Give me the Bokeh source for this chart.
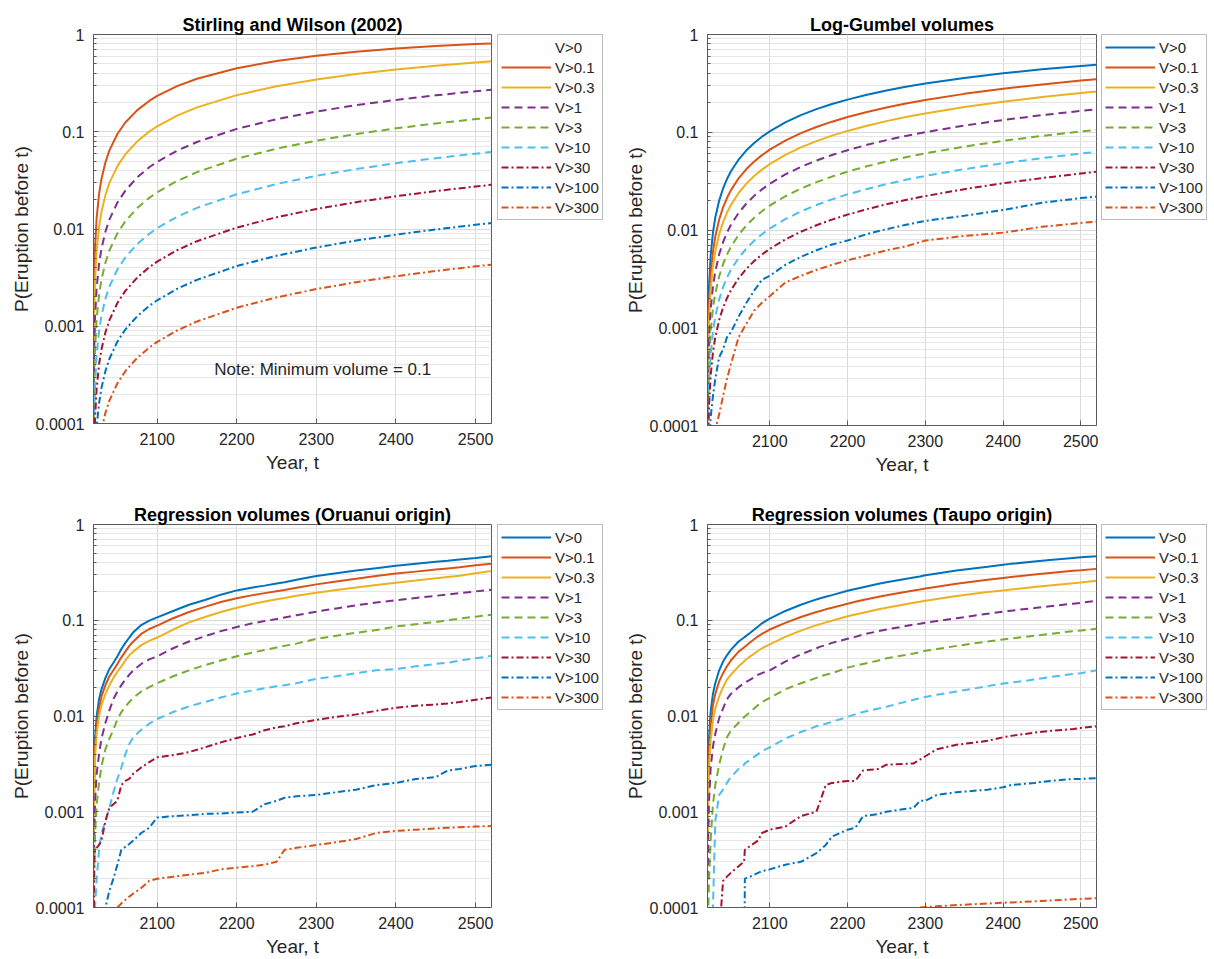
from bokeh.plotting import figure
from bokeh.layouts import column, row
from bokeh.models import (Range1d, FixedTicker, CustomJSTickFormatter, Legend,
                          LegendItem, Label)
from bokeh.embed import file_html
from bokeh.resources import INLINE

nan = float("nan")

labels = ["V>0", "V>0.1", "V>0.3", "V>1", "V>3", "V>10", "V>30", "V>100", "V>300"]
colors = ["#0072BD", "#D95319", "#EDB120", "#7E2F8E", "#77AC30", "#4DBEEE",
          "#A2142F", "#0072BD", "#D95319"]
dashes = ["solid", "solid", "solid", "8 5", "8 5", "8 5", "7 3 2 3", "7 3 2 3", "7 3 2 3"]

y_ticks = [0.0001, 0.001, 0.01, 0.1, 1]
y_minor = [2e-4, 3e-4, 4e-4, 5e-4, 6e-4, 7e-4, 8e-4, 9e-4,
           2e-3, 3e-3, 4e-3, 5e-3, 6e-3, 7e-3, 8e-3, 9e-3,
           0.02, 0.03, 0.04, 0.05, 0.06, 0.07, 0.08, 0.09,
           0.2, 0.3, 0.4, 0.5, 0.6, 0.7, 0.8, 0.9]
x_ticks = [2100, 2200, 2300, 2400, 2500]

# ---------------- Panel 1: Stirling and Wilson (2002) ----------------
p1_years = [2020.2, 2020.5, 2021, 2022, 2024, 2027, 2030, 2035, 2040, 2050, 2060, 2075,
            2090, 2100, 2125, 2150, 2200, 2250, 2300, 2350, 2400, 2450, 2500, 2520]
p1_v0 = []
p1_v01 = [0.00066, 0.00166, 0.00332, 0.00662, 0.0132, 0.0230, 0.0327, 0.0486, 0.0643, 0.0948,
          0.1244, 0.1670, 0.2075, 0.2334, 0.2944, 0.3507, 0.4500, 0.5341, 0.6054, 0.6657,
          0.7169, 0.7602, 0.7969, 0.810]
p1_v03 = [0.0003, 0.00075, 0.00151, 0.00302, 0.00602, 0.01051, 0.01499, 0.02239, 0.0298, 0.0443,
          0.0586, 0.0797, 0.1003, 0.1138, 0.1466, 0.1782, 0.2380, 0.2934, 0.3448, 0.3924,
          0.4366, 0.4776, 0.5156, 0.530]
p1_v1 = [0.000126, 0.000315, 0.000629, 0.001258, 0.002513, 0.004394, 0.00627, 0.00939, 0.0125,
         0.01869, 0.0248, 0.0340, 0.0431, 0.0491, 0.0639, 0.0785, 0.1070, 0.1346, 0.1615,
         0.1875, 0.2126, 0.2370, 0.2606, 0.270]
p1_v3 = [0.00006, 0.000151, 0.000302, 0.000603, 0.001206, 0.002109, 0.003012, 0.004514,
         0.006014, 0.00901, 0.01199, 0.01645, 0.02089, 0.02385, 0.03118, 0.03845, 0.05281,
         0.0670, 0.0810, 0.0948, 0.1084, 0.1217, 0.1349, 0.140]
p1_v10 = [0.000026, 0.000064, 0.000128, 0.000256, 0.000512, 0.000896, 0.00128, 0.00192,
          0.00256, 0.00383, 0.00511, 0.00702, 0.00892, 0.01019, 0.01335, 0.0165, 0.02278,
          0.02901, 0.03521, 0.04135, 0.04746, 0.05352, 0.05954, 0.0620]
p1_v30 = [0.0000116, 0.000029, 0.000058, 0.000116, 0.000231, 0.000405, 0.000578, 0.000867,
          0.001155, 0.001733, 0.002309, 0.003174, 0.004038, 0.004613, 0.006051, 0.007486,
          0.01035, 0.01321, 0.01605, 0.01889, 0.02172, 0.02454, 0.02736, 0.0285]
p1_v100 = [0.0000046, 0.0000116, 0.000023, 0.000046, 0.000093, 0.000162, 0.000231, 0.000347,
           0.000463, 0.000694, 0.000925, 0.001271, 0.001618, 0.001849, 0.002426, 0.003002,
           0.004155, 0.005306, 0.006455, 0.007604, 0.008751, 0.009897, 0.01104, 0.0115]
p1_v300 = [0.0000017, 0.0000043, 0.0000086, 0.000017, 0.000034, 0.00006, 0.000086, 0.000129,
           0.000172, 0.000259, 0.000345, 0.000474, 0.000603, 0.00069, 0.000905, 0.00112,
           0.00155, 0.001981, 0.002411, 0.002841, 0.00327, 0.003699, 0.004129, 0.0043]

# ---------------- Panel 2: Log-Gumbel volumes ----------------
p2_years = [2020.5, 2021, 2022, 2024, 2027, 2030, 2035, 2040, 2045, 2050, 2060, 2070, 2080,
            2090, 2100, 2120, 2140, 2160, 2180, 2200, 2225, 2250, 2275, 2300, 2350, 2400,
            2450, 2500, 2520]
p2_v0 = [0.00068, 0.00135, 0.0027, 0.0054, 0.0094, 0.0134, 0.0200, 0.0266, 0.0332, 0.0397,
         0.0526, 0.0653, 0.0778, 0.0901, 0.1022, 0.1263, 0.1497, 0.1723, 0.1943, 0.2157,
         0.2418, 0.2668, 0.2914, 0.3147, 0.3597, 0.4012, 0.4402, 0.4767, 0.4908]
p2_v01 = [0.00043, 0.00086, 0.00172, 0.00343, 0.006, 0.00855, 0.0128, 0.01704, 0.02124,
          0.02543, 0.03378, 0.04204, 0.05022, 0.05833, 0.06636, 0.0822, 0.0979, 0.1133,
          0.1283, 0.1432, 0.1614, 0.1791, 0.1968, 0.2139, 0.247, 0.2785, 0.3088, 0.3379, 0.3491]
p2_v03 = [0.0003, 0.000605, 0.00121, 0.00242, 0.00423, 0.00603, 0.00904, 0.01203, 0.01501,
          0.01798, 0.02391, 0.0298, 0.03565, 0.04147, 0.04725, 0.05871, 0.07003, 0.08122,
          0.09228, 0.1032, 0.1166, 0.1299, 0.143, 0.1558, 0.181, 0.2054, 0.2291, 0.2521, 0.261]
p2_v1 = [0.00019, 0.00038, 0.00075, 0.00151, 0.00264, 0.00376, 0.00564, 0.00751, 0.00938,
         0.01125, 0.01497, 0.01867, 0.02236, 0.02604, 0.02971, 0.037, 0.04423, 0.0514, 0.0585,
         0.06555, 0.07437, 0.08307, 0.0917, 0.1002, 0.117, 0.1334, 0.1495, 0.1654, 0.1715]
p2_v3 = [0.00011, 0.000224, 0.00045, 0.0009, 0.00157, 0.00224, 0.00336, 0.00447, 0.00558,
         0.0067, 0.00892, 0.01114, 0.01335, 0.01556, 0.01776, 0.02215, 0.02652, 0.03087,
         0.0352, 0.03952, 0.04489, 0.05022, 0.05553, 0.06081, 0.07127, 0.0816, 0.0918,
         0.1019, 0.1059]
p2_v10 = [0.000065, 0.00013, 0.00026, 0.00052, 0.00091, 0.0013, 0.00195, 0.0026, 0.00325,
          0.0039, 0.00519, 0.00648, 0.00777, 0.00906, 0.01035, 0.01292, 0.01548, 0.01803,
          0.02059, 0.02313, 0.0263, 0.02945, 0.03261, 0.03575, 0.04199, 0.0482, 0.05436,
          0.06049, 0.063]
p2_v30 = [0.00004, 0.00008, 0.00016, 0.00032, 0.00056, 0.0008, 0.0012, 0.00161, 0.00201,
          0.00241, 0.00321, 0.00401, 0.00481, 0.00561, 0.00641, 0.00801, 0.0096, 0.01119,
          0.01278, 0.01437, 0.01635, 0.01832, 0.02029, 0.02226, 0.02618, 0.03008, 0.03398,
          0.03786, 0.0394]
p2_v100 = [0.000015, 0.00003, 0.00006, 0.00012, 0.0002, 0.0003, 0.0005, 0.0006, 0.0008, 0.0009,
           0.0013, 0.0018, 0.0024, 0.0031, 0.0034, 0.0044, 0.0053, 0.0062, 0.0071, 0.0078,
           0.0091, 0.0102, 0.0113, 0.0124, 0.0140, 0.0160, 0.0190, 0.0212, 0.0220]
p2_v300 = [0.00001, 0.00002, 0.00003, 0.00005, 0.00007, 0.00009, 0.00013, 0.0002, 0.0003,
           0.00042, 0.0008, 0.0011, 0.0015, 0.0018, 0.0021, 0.0029, 0.0034, 0.0039, 0.0044,
           0.0049, 0.0055, 0.0062, 0.0068, 0.0078, 0.0087, 0.0094, 0.0108, 0.0118, 0.0122]

# ---------------- Panel 3: Regression volumes (Oruanui origin) ----------------
p3_years = [2020.5, 2021, 2022, 2024, 2027, 2030, 2035, 2040, 2045, 2050, 2055, 2060, 2065,
            2070, 2080, 2090, 2100, 2120, 2140, 2160, 2180, 2200, 2220, 2235, 2250, 2260,
            2275, 2300, 2325, 2350, 2375, 2400, 2425, 2450, 2465, 2480, 2500, 2520]
p3_v0 = [0.001, 0.003, 0.006, 0.01, 0.015, 0.019, 0.025, 0.031, 0.036, 0.042, 0.05, 0.058,
         0.066, 0.075, 0.089, 0.099, 0.107, 0.125, 0.145, 0.163, 0.185, 0.205, 0.22, 0.23,
         0.242, 0.25, 0.265, 0.29, 0.31, 0.33, 0.35, 0.37, 0.39, 0.408, 0.418, 0.43, 0.447, 0.466]
p3_v01 = [0.0008, 0.0025, 0.005, 0.008, 0.012, 0.016, 0.021, 0.026, 0.03, 0.035, 0.041, 0.047,
          0.054, 0.06, 0.072, 0.081, 0.088, 0.105, 0.122, 0.138, 0.155, 0.17, 0.183, 0.192,
          0.201, 0.207, 0.218, 0.237, 0.254, 0.272, 0.29, 0.307, 0.322, 0.338, 0.348, 0.358,
          0.375, 0.39]
p3_v03 = [0.0006, 0.0018, 0.0038, 0.0065, 0.01, 0.013, 0.017, 0.021, 0.025, 0.029, 0.033,
          0.038, 0.043, 0.047, 0.055, 0.061, 0.066, 0.08, 0.095, 0.108, 0.122, 0.135, 0.148,
          0.157, 0.166, 0.171, 0.18, 0.194, 0.207, 0.22, 0.234, 0.247, 0.26, 0.274, 0.283,
          0.292, 0.31, 0.327]
p3_v1 = [0.0002, 0.0006, 0.0013, 0.0025, 0.004, 0.0058, 0.0085, 0.0115, 0.015, 0.018, 0.021,
         0.024, 0.027, 0.03, 0.035, 0.039, 0.042, 0.051, 0.06, 0.068, 0.077, 0.085, 0.093,
         0.098, 0.103, 0.107, 0.113, 0.123, 0.133, 0.143, 0.153, 0.162, 0.171, 0.18, 0.186,
         0.192, 0.2, 0.208]
p3_v3 = [0.0001, 0.0003, 0.0006, 0.0012, 0.002, 0.003, 0.0045, 0.0058, 0.0072, 0.0092, 0.011,
         0.0125, 0.014, 0.0155, 0.018, 0.02, 0.022, 0.026, 0.03, 0.034, 0.038, 0.042, 0.046,
         0.049, 0.052, 0.054, 0.057, 0.064, 0.069, 0.074, 0.079, 0.086, 0.091, 0.096, 0.1,
         0.104, 0.109, 0.114]
p3_v10 = [0.00002, 0.00005, 0.0001, 0.0002, 0.0004, 0.0006, 0.0008, 0.0011, 0.0016, 0.0022,
          0.0029, 0.004, 0.0051, 0.006, 0.0072, 0.0083, 0.0093, 0.011, 0.0126, 0.014, 0.0156,
          0.0172, 0.0185, 0.0195, 0.0205, 0.021, 0.022, 0.0245, 0.026, 0.028, 0.03, 0.031,
          0.033, 0.035, 0.036, 0.038, 0.04, 0.0425]
p3_v30 = [0.0001, 0.0003, 0.0004, 0.00042, 0.00045, 0.0005, 0.0008, 0.0011, 0.0012, 0.0013,
          0.0019, 0.0021, 0.0022, 0.0025, 0.0029, 0.0033, 0.0037, 0.0039, 0.0042, 0.0047,
          0.0053, 0.0059, 0.0064, 0.0071, 0.0076, 0.0078, 0.0084, 0.0091, 0.0098, 0.0104,
          0.0113, 0.0122, 0.0128, 0.0132, 0.0135, 0.014, 0.0148, 0.0156]
p3_v100 = [0.00001, 0.00002, 0.00003, 0.00004, 0.00005, 0.00007, 0.0001, 0.00015, 0.0002,
           0.00028, 0.0004, 0.00043, 0.00046, 0.0005, 0.0006, 0.00068, 0.00087, 0.0009,
           0.00092, 0.00095, 0.00096, 0.00098, 0.001, 0.0012, 0.0013, 0.0014, 0.00145, 0.0015,
           0.0016, 0.0017, 0.0019, 0.002, 0.0022, 0.0023, 0.0027, 0.0028, 0.003, 0.0031]
p3_v300 = [nan, nan, nan, nan, nan, nan, nan, nan, nan, 0.0001, 0.00011, 0.00012, 0.00013,
           0.00014, 0.00016, 0.00019, 0.0002, 0.00021, 0.00022, 0.00023, 0.00025, 0.00026,
           0.00027, 0.00028, 0.0003, 0.0004, 0.00042, 0.00045, 0.00048, 0.00052, 0.0006,
           0.00063, 0.00065, 0.00067, 0.00068, 0.00069, 0.0007, 0.00071]

# ---------------- Panel 4: Regression volumes (Taupo origin) ----------------
p4_years = [2020.5, 2021, 2022, 2024, 2027, 2030, 2035, 2040, 2045, 2050, 2060, 2067, 2068,
            2075, 2085, 2090, 2100, 2120, 2140, 2160, 2165, 2172, 2180, 2200, 2210, 2220,
            2240, 2250, 2285, 2293, 2300, 2315, 2340, 2380, 2400, 2410, 2440, 2460, 2490,
            2500, 2520]
p4_v0 = [0.001, 0.003, 0.006, 0.011, 0.017, 0.022, 0.03, 0.037, 0.043, 0.049, 0.06, 0.066,
         0.067, 0.074, 0.086, 0.093, 0.104, 0.125, 0.145, 0.165, 0.17, 0.176, 0.183, 0.203,
         0.212, 0.221, 0.24, 0.249, 0.28, 0.287, 0.295, 0.308, 0.33, 0.362, 0.38, 0.388,
         0.41, 0.425, 0.447, 0.454, 0.467]
p4_v01 = [0.0008, 0.0023, 0.0045, 0.008, 0.013, 0.017, 0.023, 0.028, 0.033, 0.038, 0.047,
          0.052, 0.053, 0.059, 0.068, 0.072, 0.08, 0.094, 0.108, 0.122, 0.125, 0.13, 0.135,
          0.149, 0.156, 0.163, 0.176, 0.182, 0.205, 0.21, 0.215, 0.224, 0.24, 0.265, 0.277,
          0.283, 0.3, 0.311, 0.328, 0.333, 0.344]
p4_v03 = [0.0005, 0.0015, 0.003, 0.0055, 0.009, 0.012, 0.016, 0.02, 0.024, 0.027, 0.033,
          0.037, 0.038, 0.042, 0.048, 0.051, 0.056, 0.067, 0.078, 0.089, 0.091, 0.095, 0.099,
          0.11, 0.115, 0.12, 0.13, 0.135, 0.152, 0.156, 0.16, 0.167, 0.179, 0.197, 0.205,
          0.209, 0.222, 0.231, 0.244, 0.248, 0.258]
p4_v1 = [0.0002, 0.0006, 0.0013, 0.0028, 0.0048, 0.0065, 0.0095, 0.012, 0.015, 0.017, 0.02,
         0.022, 0.0222, 0.024, 0.027, 0.028, 0.03, 0.037, 0.044, 0.051, 0.053, 0.055, 0.058,
         0.064, 0.067, 0.071, 0.077, 0.08, 0.09, 0.092, 0.094, 0.098, 0.105, 0.117, 0.123,
         0.126, 0.134, 0.14, 0.149, 0.152, 0.16]
p4_v3 = [0.00003, 0.0001, 0.0002, 0.0005, 0.0012, 0.0019, 0.0031, 0.0045, 0.006, 0.007,
         0.0085, 0.0097, 0.0099, 0.011, 0.013, 0.014, 0.0155, 0.019, 0.022, 0.025, 0.026,
         0.027, 0.028, 0.032, 0.0335, 0.035, 0.038, 0.04, 0.045, 0.0465, 0.048, 0.05, 0.054,
         0.06, 0.063, 0.0645, 0.069, 0.072, 0.077, 0.078, 0.0815]
p4_v10 = [0.00001, 0.00002, 0.00003, 0.00005, 0.0001, 0.0008, 0.0015, 0.0017, 0.002, 0.0023,
          0.0028, 0.0031, 0.0032, 0.0035, 0.004, 0.0043, 0.0047, 0.0058, 0.0068, 0.0078,
          0.008, 0.0083, 0.0087, 0.0098, 0.0104, 0.011, 0.012, 0.0125, 0.0148, 0.0153,
          0.0158, 0.0167, 0.018, 0.0205, 0.0218, 0.0223, 0.024, 0.0255, 0.0275, 0.028, 0.03]
p4_v30 = [nan, nan, nan, nan, nan, nan, 0.00005, 0.00019, 0.00021, 0.00023, 0.00027, 0.0003,
          0.0004, 0.00044, 0.0005, 0.0006, 0.00065, 0.0007, 0.0009, 0.001, 0.0013, 0.0019,
          0.002, 0.0021, 0.0021, 0.0027, 0.0028, 0.0031, 0.0032, 0.0035, 0.0038, 0.0045,
          0.005, 0.0055, 0.006, 0.0062, 0.0067, 0.007, 0.0073, 0.0075, 0.0078]
p4_v100 = [nan, nan, nan, nan, nan, nan, nan, nan, nan, nan, nan, 0.00001, 0.0002, 0.00021,
           0.00023, 0.00024, 0.00025, 0.00028, 0.0003, 0.00037, 0.0004, 0.00045, 0.00055,
           0.00065, 0.00068, 0.0009, 0.00095, 0.001, 0.0011, 0.0013, 0.0013, 0.0015, 0.0016,
           0.0017, 0.0018, 0.0019, 0.002, 0.0021, 0.0022, 0.0022, 0.00224]
p4_v300 = [nan, nan, nan, nan, nan, nan, nan, nan, nan, nan, nan, nan, nan, nan, nan, nan,
           nan, nan, nan, nan, nan, nan, nan, nan, nan, nan, nan, nan, nan, 0.0001, 0.000101,
           0.000103, 0.000106, 0.00011, 0.000112, 0.000113, 0.000116, 0.000118, 0.000122,
           0.000123, 0.000125]

FONT = "Liberation Sans"
TXT = "#262626"
AXC = "#5a5a5a"


def make_panel(title, years, series, fw, fh, bl, bt, bb, hide_first=False):
    p = figure(frame_width=fw, frame_height=fh, y_axis_type="log",
               x_range=Range1d(2020, 2520), y_range=Range1d(1e-4, 1),
               output_backend="svg", toolbar_location=None,
               min_border_left=bl, min_border_right=2, min_border_top=bt,
               min_border_bottom=bb, background_fill_color="white",
               border_fill_color="white")
    p.title.text = title
    p.title.align = "center"
    p.title.text_font = FONT
    p.title.text_font_size = "18px"
    p.title.text_font_style = "bold"
    p.title.text_color = "black"
    p.title.standoff = 0

    yt = FixedTicker(ticks=y_ticks, minor_ticks=y_minor)
    xt = FixedTicker(ticks=x_ticks)
    p.yaxis.ticker = yt
    p.ygrid.ticker = yt
    p.xaxis.ticker = xt
    p.xgrid.ticker = xt
    p.yaxis.formatter = CustomJSTickFormatter(code="return tick.toString();")

    p.xaxis.axis_label = "Year, t"
    p.yaxis.axis_label = "P(Eruption before t)"
    for ax in (p.xaxis[0], p.yaxis[0]):
        ax.axis_line_color = AXC
        ax.major_tick_line_color = AXC
        ax.minor_tick_line_color = AXC
        ax.major_tick_in = 5
        ax.major_tick_out = 0
        ax.minor_tick_in = 3
        ax.minor_tick_out = 0
        ax.major_label_text_font = FONT
        ax.major_label_text_font_size = "16px"
        ax.major_label_text_color = TXT
        ax.axis_label_text_font = FONT
        ax.axis_label_text_font_size = "19px"
        ax.axis_label_text_font_style = "normal"
        ax.axis_label_text_color = TXT
    p.xaxis.major_label_standoff = 9
    p.xaxis.axis_label_standoff = 4
    p.yaxis.major_label_standoff = 9
    p.yaxis.axis_label_standoff = 1

    p.outline_line_color = AXC
    p.outline_line_width = 1
    p.xgrid.grid_line_color = "#d9d9d9"
    p.ygrid.grid_line_color = "#d9d9d9"
    p.ygrid.minor_grid_line_color = "#e6e6e6"

    for lab, col, dash, ys in zip(labels, colors, dashes, series):
        xs = years if len(ys) else []
        p.line(xs, ys, line_color=col, line_width=2, line_dash=dash,
               line_alpha=0 if (hide_first and lab == "V>0") else 1)
    return p


def make_legend(width, height, left, top, hide_first=False):
    lf = figure(width=width, height=height, output_backend="svg", toolbar_location=None,
                x_axis_location=None, y_axis_location=None,
                x_range=Range1d(0, 1), y_range=Range1d(0, 1),
                min_border_left=left, min_border_top=top, min_border_right=0,
                min_border_bottom=0, outline_line_color=None,
                background_fill_color="white", border_fill_color="white")
    lf.grid.visible = False
    items = []
    for lab, col, dash in zip(labels, colors, dashes):
        # a single NaN point: nothing is drawn in the box, but the legend swatch gets its style
        r = lf.line([nan], [nan], line_color=col, line_width=2, line_dash=dash,
                    line_alpha=0 if (hide_first and lab == "V>0") else 1)
        items.append(LegendItem(label=lab, renderers=[r]))
    leg = Legend(items=items, location="top_left")
    leg.label_text_font = FONT
    leg.label_text_font_size = "15px"
    leg.label_text_color = TXT
    leg.border_line_color = "#7a7a7a"
    leg.border_line_width = 1
    leg.background_fill_color = "white"
    leg.background_fill_alpha = 1
    leg.padding = 3
    leg.spacing = 2
    leg.margin = 0
    leg.label_height = 18
    leg.glyph_height = 18
    leg.glyph_width = 50
    leg.label_standoff = 4
    lf.add_layout(leg)
    return lf


p1 = make_panel("Stirling and Wilson (2002)", p1_years,
                [p1_v0, p1_v01, p1_v03, p1_v1, p1_v3, p1_v10, p1_v30, p1_v100, p1_v300],
                398, 389, 93, 32, 55, hide_first=True)
p1.add_layout(Label(x=2308, y=0.00036, text="Note: Minimum volume = 0.1",
                    text_align="center", text_baseline="middle", text_font=FONT,
                    text_font_size="17px", text_color=TXT))
l1 = make_legend(115, 476, 4, 32, hide_first=True)
p2 = make_panel("Log-Gumbel volumes", p2_years,
                [p2_v0, p2_v01, p2_v03, p2_v1, p2_v3, p2_v10, p2_v30, p2_v100, p2_v300],
                389, 391, 99, 32, 53)
l2 = make_legend(112, 476, 3, 34)
p3 = make_panel("Regression volumes (Oruanui origin)", p3_years,
                [p3_v0, p3_v01, p3_v03, p3_v1, p3_v3, p3_v10, p3_v30, p3_v100, p3_v300],
                398, 383, 93, 43, 54)
l3 = make_legend(115, 480, 4, 48)
p4 = make_panel("Regression volumes (Taupo origin)", p4_years,
                [p4_v0, p4_v01, p4_v03, p4_v1, p4_v3, p4_v10, p4_v30, p4_v100, p4_v300],
                389, 383, 99, 43, 54)
l4 = make_legend(112, 480, 3, 43)

layout = column(row(p1, l1, p2, l2), row(p3, l3, p4, l4))
open("out.html", "w").write(file_html(layout, INLINE, title="Eruption probabilities"))
